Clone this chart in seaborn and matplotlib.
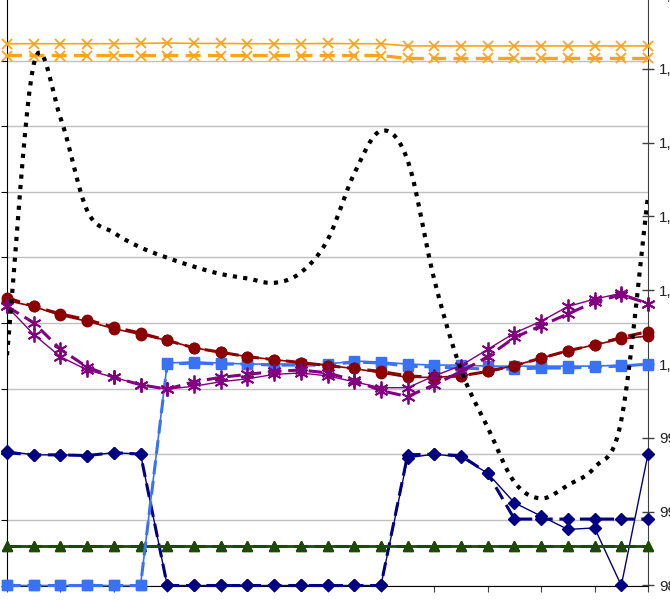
import numpy as np
import seaborn as sns
import matplotlib.pyplot as plt
from matplotlib.ticker import MultipleLocator, FuncFormatter

sns.set_style('white')
plt.rcParams['font.family'] = ['Liberation Sans', 'DejaVu Sans']

steps = np.arange(25)

orange_solid = [1021.7, 1021.7, 1021.7, 1021.7, 1021.7, 1021.72, 1021.75, 1021.72, 1021.72, 1021.7,
                1021.7, 1021.7, 1021.72, 1021.7, 1021.7, 1021.55, 1021.55, 1021.55, 1021.55, 1021.55,
                1021.55, 1021.55, 1021.55, 1021.55, 1021.55]
orange_dash = [1020.9] * 15 + [1020.7] * 10

black_dot = [1000.6, 1020.3, 1016.7, 1010.4, 1008.9, 1007.9, 1007.2, 1006.6, 1006.1, 1005.8,
             1005.5, 1006.2, 1008.4, 1012.9, 1015.8, 1013.8, 1005.7, 999.6, 995.7, 992.0,
             990.9, 991.8, 993.0, 996.2, 1011.4]

red_solid = [1004.3, 1003.9, 1003.3, 1002.9, 1002.4, 1002.0, 1001.6, 1001.1, 1000.8, 1000.5,
             1000.3, 1000.1, 999.9, 999.7, 999.4, 999.1, 999.1, 999.2, 999.5, 999.9,
             1000.4, 1000.9, 1001.3, 1001.7, 1001.9]
red_dash = [1004.5, 1003.9, 1003.4, 1003.0, 1002.5, 1002.1, 1001.6, 1001.1, 1000.8, 1000.5,
            1000.3, 1000.1, 999.9, 999.7, 999.5, 999.2, 999.1, 999.2, 999.5, 999.9,
            1000.4, 1000.9, 1001.3, 1001.8, 1002.2]

purple_solid = [1003.9, 1002.0, 1000.5, 999.6, 999.1, 998.6, 998.3, 998.5, 998.8, 999.0,
                999.3, 999.4, 999.2, 998.8, 998.4, 998.4, 999.2, 999.9, 1001.0, 1002.1,
                1002.9, 1003.9, 1004.4, 1004.8, 1004.1]
purple_dash = [1003.9, 1002.8, 1001.0, 999.8, 999.1, 998.6, 998.3, 998.8, 999.1, 999.3,
               999.5, 999.6, 999.4, 998.9, 998.2, 997.8, 998.6, 999.5, 1000.5, 1001.8,
               1002.6, 1003.4, 1004.2, 1004.7, 1004.1]

blue_solid = [985.0] * 6 + [1000.07, 1000.14, 1000.07, 1000.0, 1000.0, 1000.0, 1000.0, 1000.2, 1000.14,
                            1000.0, 999.93, 999.93, 999.86, 999.86, 999.86, 999.86, 999.86, 999.93, 999.93]
blue_dash = [985.0] * 6 + [1000.0, 1000.07, 1000.0, 1000.0, 999.93, 999.93, 999.93, 1000.14, 1000.07,
                           999.86, 999.8, 999.73, 999.66, 999.66, 999.73, 999.73, 999.8, 999.86, 1000.0]

green_solid = [987.7] * 25
green_dash = [987.7] * 25

navy_solid = [994.1, 993.85, 993.85, 993.8, 994.0, 993.9] + [985.0] * 9 + \
             [993.65, 993.9, 993.7, 992.6, 990.6, 989.7, 988.8, 988.9, 985.0, 993.9]
navy_dash = [994.0, 993.85, 993.85, 993.8, 994.0, 993.9] + [985.0] * 9 + \
            [993.85, 993.9, 993.8, 992.6, 989.5, 989.5, 989.5, 989.5, 989.5, 989.5]

right_ticks = np.arange(985, 1026, 5)


def smooth(x, y, n=12):
    # catmull-rom curve through the points, close to excel's smoothed line
    x = np.asarray(x, float)
    y = np.asarray(y, float)
    out = []
    for arr in (x, y):
        p = np.concatenate([[2 * arr[0] - arr[1]], arr, [2 * arr[-1] - arr[-2]]])
        m = len(p)
        p0, p1, p2, p3 = p[0:m - 3], p[1:m - 2], p[2:m - 1], p[3:m]
        t = np.linspace(0, 1, n, endpoint=False)[:, None]
        seg = 0.5 * (2 * p1 + (-p0 + p2) * t + (2 * p0 - 5 * p1 + 4 * p2 - p3) * t ** 2
                     + (-p0 + 3 * p1 - 3 * p2 + p3) * t ** 3)
        out.append(np.append(seg.T.ravel(), arr[-1]))
    return out


fig = plt.figure(figsize=(6.7, 6.01), dpi=100)
ax = fig.add_axes([7 / 670, 15.5 / 601, 641 / 670, 590.5 / 601])
ax2 = ax.twinx()

# primary axis only carries the grid
ax.set_ylim(0, 9)
ax.set_xlim(0, 24)
ax.yaxis.set_major_locator(MultipleLocator(1))
ax.xaxis.set_major_locator(MultipleLocator(2))
ax.grid(axis='y', color='#c0c0c0', lw=1)
ax.tick_params(axis='y', left=True, direction='out', length=4, color='black', labelleft=False)
ax.tick_params(axis='x', bottom=True, direction='out', length=4, color='#404040', labelbottom=False)
for s in ['top', 'right']:
    ax.spines[s].set_visible(False)
ax.spines['left'].set_color('black')
ax.spines['bottom'].set_color('black')

ax2.set_ylim(985, 1025)
ax2.set_yticks(right_ticks)
ax2.yaxis.set_major_formatter(FuncFormatter(lambda v, p: f'{v:,.0f}'))
ax2.tick_params(axis='y', right=True, direction='inout', length=8, width=1, color='#404040',
                pad=4, labelsize=11, labelcolor='#222222')
for s in ['top', 'left', 'bottom']:
    ax2.spines[s].set_visible(False)
ax2.spines['right'].set_color('#404040')


def draw(vals, color, marker, ms, lw, dashed=False, mew=1.0, z=3):
    kw = dict(x=steps, y=vals, ax=ax2, color=color, marker=marker, markersize=ms,
              markeredgecolor=color, markerfacecolor=color, markeredgewidth=mew,
              lw=lw, clip_on=False, zorder=z, legend=False)
    if dashed:
        kw['linestyle'] = (0, (4.5, 2.2))
    sns.lineplot(**kw)


draw(navy_dash, '#000080', 'D', 6, 2.2, dashed=True)
draw(navy_solid, '#000080', 'D', 6, 1.0)
draw(green_solid, '#1d4a00', '^', 7, 2.0)
draw(green_dash, '#1d4a00', '^', 7, 2.2, dashed=True)
draw(blue_dash, '#3a72f5', 's', 7, 2.2, dashed=True)
draw(blue_solid, '#3a72f5', 's', 7, 1.2)
draw(red_dash, '#8b0000', 'o', 7.5, 2.2, dashed=True)
draw(red_solid, '#8b0000', 'o', 7.5, 1.2)
draw(purple_dash, '#800080', (6, 2, 0), 10, 2.2, dashed=True, mew=1.3)
draw(purple_solid, '#800080', (6, 2, 0), 10, 1.0, mew=1.3)
draw(orange_dash, '#ffa31a', 'x', 7, 2.4, dashed=True, mew=1.3)
draw(orange_solid, '#ffa31a', 'x', 7, 1.2, mew=1.3)

sx, sy = smooth(steps, black_dot)
sns.lineplot(x=sx, y=sy, ax=ax2, color='black', lw=3, linestyle=(0, (1, 1.5)),
             sort=False, estimator=None, legend=False, zorder=4)

fig.savefig('out.png', dpi=100)
